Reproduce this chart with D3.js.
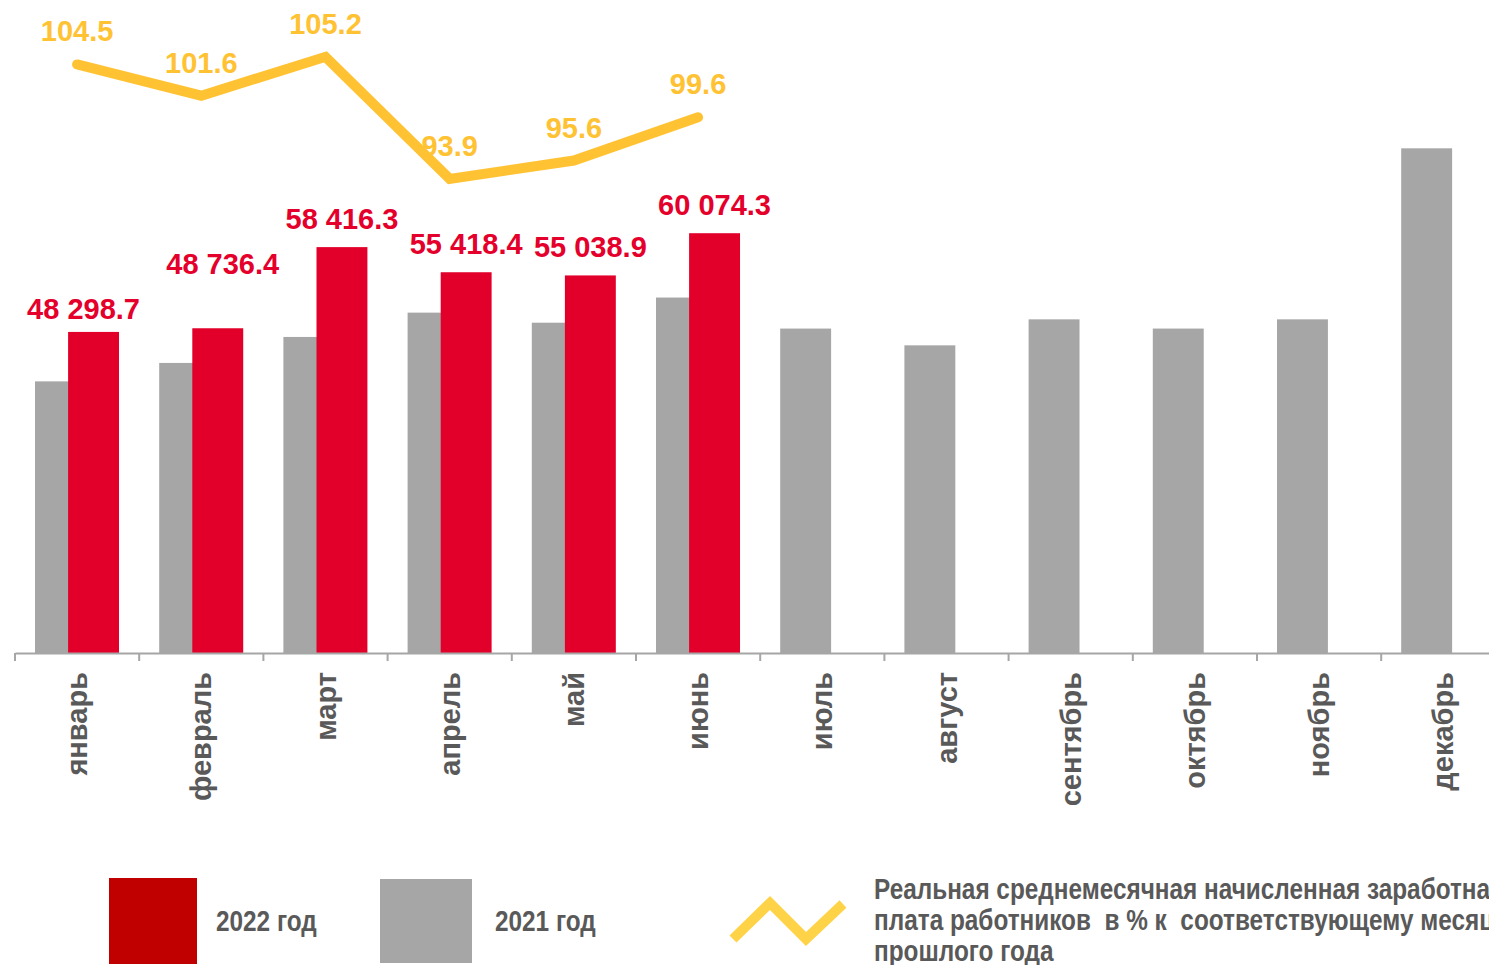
<!DOCTYPE html>
<html>
<head>
<meta charset="utf-8">
<script src="https://cdn.jsdelivr.net/npm/d3@7"></script>
<style>
  html, body { margin: 0; padding: 0; background: #fff; overflow: hidden; }
  svg { display: block; }
  .lbl { font-family: "Liberation Sans", Arial, sans-serif; font-weight: bold; }
  .narrow { font-family: "Liberation Sans Narrow", "Arial Narrow", "Liberation Sans", Arial, sans-serif; font-weight: bold; }
</style>
</head>
<body>
<svg id="chart"></svg>
<script>
// months on the x axis
const months = ["январь", "февраль", "март", "апрель", "май", "июнь",
                "июль", "август", "сентябрь", "октябрь", "ноябрь", "декабрь"];

// average accrued wage, rub.
const wages2022 = [48298.7, 48736.4, 58416.3, 55418.4, 55038.9, 60074.3];
const wages2021 = [42400, 44600, 47700, 50600, 49400, 52400,
                   48700, 46700, 49800, 48700, 49800, 70200];

// real wage, % to same month of previous year
const realIndex = [104.5, 101.6, 105.2, 93.9, 95.6, 99.6];

const legendNames = ["2022 год", "2021 год"];
const lineLegend = ["Реальная среднемесячная начисленная заработная",
                    "плата работников  в % к  соответствующему месяцу",
                    "прошлого года"];

const width = 1489, height = 965;
const baseY = 653;
const narrowK = 0.84; // no Arial Narrow here, squeeze the regular face

const svg = d3.select("#chart").attr("width", width).attr("height", height);

const x = d3.scaleBand()
    .domain(months)
    .range([15, 15 + 12 * 124.2])
    .padding(0);
const bw = x.bandwidth();
const barW = bw * 0.41;
const grayOff = bw * 0.161;
const redOff = grayOff + barW * 0.65;

const y = d3.scaleLinear().domain([10000, 70000]).range([baseY, 150]);
const y2 = d3.scaleLinear().domain([50, 110]).range([baseY, 5]);

const ruLocale = d3.formatLocale({ decimal: ".", thousands: " ", grouping: [3], currency: ["", ""] });
const fmtWage = ruLocale.format(",.1f");
const fmtIdx = d3.format(".1f");

// bars 2021
svg.append("g").selectAll("rect")
    .data(wages2021)
    .join("rect")
    .attr("x", (d, i) => x(months[i]) + grayOff)
    .attr("y", d => y(d))
    .attr("width", barW)
    .attr("height", d => baseY - y(d))
    .attr("fill", "#a6a6a6");

// bars 2022
svg.append("g").selectAll("rect")
    .data(wages2022)
    .join("rect")
    .attr("x", (d, i) => x(months[i]) + redOff)
    .attr("y", d => y(d))
    .attr("width", barW)
    .attr("height", d => baseY - y(d))
    .attr("fill", "#e2002b");

// label nudges (manually moved labels in the original)
const nudge = [[-10, 5], [5, -36], [0, 0], [0, 0], [0, 0], [0, 0]];

svg.append("g").selectAll("text")
    .data(wages2022)
    .join("text")
    .attr("class", "lbl")
    .attr("x", (d, i) => x(months[i]) + redOff + barW / 2 + nudge[i][0])
    .attr("y", (d, i) => y(d) - 18 + nudge[i][1])
    .attr("text-anchor", "middle")
    .attr("font-size", 29)
    .attr("fill", "#e4002b")
    .text(d => fmtWage(d));

// axis
const axis = svg.append("g")
    .attr("transform", "translate(0," + baseY + ")")
    .call(d3.axisBottom(x).tickSize(0).tickSizeOuter(0));
axis.select(".domain").attr("stroke", "#a6a6a6").attr("stroke-width", 2);
axis.selectAll(".tick text")
    .attr("class", "lbl")
    .attr("font-size", 29)
    .attr("fill", "#595959")
    .attr("transform", "rotate(-90)")
    .attr("x", -19)
    .attr("y", 0)
    .attr("dy", "0.35em")
    .attr("text-anchor", "end");
axis.selectAll(".edge")
    .data(months)
    .join("line")
    .attr("class", "edge")
    .attr("x1", d => x(d))
    .attr("x2", d => x(d))
    .attr("y1", 0)
    .attr("y2", 8)
    .attr("stroke", "#a6a6a6")
    .attr("stroke-width", 2);

// index labels then line
const cx = i => x(months[i]) + bw / 2;
svg.append("g").selectAll("text")
    .data(realIndex)
    .join("text")
    .attr("class", "lbl")
    .attr("x", (d, i) => cx(i))
    .attr("y", d => y2(d) - 23)
    .attr("text-anchor", "middle")
    .attr("font-size", 29)
    .attr("fill", "#ffc233")
    .text(d => fmtIdx(d));

const line = d3.line()
    .x((d, i) => cx(i))
    .y(d => y2(d));
svg.append("path")
    .datum(realIndex)
    .attr("d", line)
    .attr("fill", "none")
    .attr("stroke", "#ffc233")
    .attr("stroke-width", 10)
    .attr("stroke-linecap", "round")
    .attr("stroke-linejoin", "miter");

// legend
const lg = svg.append("g");
lg.append("rect").attr("x", 109).attr("y", 878).attr("width", 88).attr("height", 86).attr("fill", "#c00000");
lg.append("rect").attr("x", 380).attr("y", 879).attr("width", 92).attr("height", 84).attr("fill", "#a6a6a6");
lg.selectAll(".ln")
    .data(legendNames)
    .join("text")
    .attr("class", "narrow ln")
    .attr("transform", (d, i) => "translate(" + [216, 495][i] + ",931) scale(" + narrowK + ",1)")
    .attr("font-size", 29)
    .attr("fill", "#595959")
    .text(d => d);
lg.append("path")
    .attr("d", "M733,939 L770,903 L806,939 L843,904")
    .attr("fill", "none")
    .attr("stroke", "#ffd347")
    .attr("stroke-width", 10);
lg.selectAll(".ll")
    .data(lineLegend)
    .join("text")
    .attr("class", "narrow ll")
    .attr("transform", (d, i) => "translate(874," + (899 + i * 31) + ") scale(" + narrowK + ",1)")
    .attr("font-size", 29)
    .attr("fill", "#595959")
    .attr("xml:space", "preserve")
    .style("white-space", "pre")
    .text(d => d);
</script>
</body>
</html>
